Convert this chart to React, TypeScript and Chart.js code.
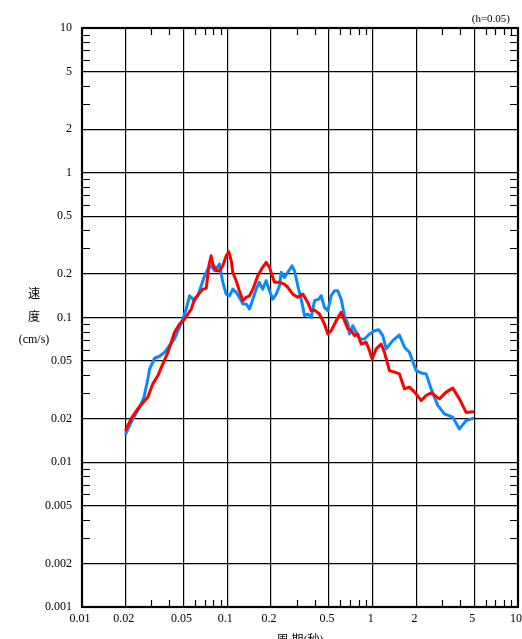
import React, { useEffect, useRef } from 'react';
import { Chart, registerables } from 'chart.js';

Chart.register(...registerables);

const xTickValues = [0.01, 0.02, 0.05, 0.1, 0.2, 0.5, 1, 2, 5, 10];
const xTickLabels = ['0.01', '0.02', '0.05', '0.1', '0.2', '0.5', '1', '2', '5', '10'];
const yTickValues = [0.001, 0.002, 0.005, 0.01, 0.02, 0.05, 0.1, 0.2, 0.5, 1, 2, 5, 10];
const yTickLabels = ['0.001', '0.002', '0.005', '0.01', '0.02', '0.05', '0.1', '0.2', '0.5', '1', '2', '5', '10'];
const minorMultipliers = [3, 4, 6, 7, 8, 9];

const xTitle = '周 期(秒)';
const yTitleLines = ['速', '度', '(cm/s)'];
const note = '(h=0.05)';

const bluePeriods = [
  0.02, 0.0224, 0.0249, 0.0267, 0.0284, 0.0292, 0.0316, 0.0342, 0.037, 0.04,
  0.0433, 0.0469, 0.0494, 0.0521, 0.055, 0.0594, 0.0627, 0.0661, 0.0697, 0.0735,
  0.0774, 0.0817, 0.0883, 0.0931, 0.0982, 0.1035, 0.109, 0.115, 0.121, 0.128,
  0.135, 0.142, 0.15, 0.158, 0.166, 0.175, 0.185, 0.195, 0.2056, 0.217,
  0.2286, 0.235, 0.247, 0.2606, 0.279, 0.2897, 0.3055, 0.322, 0.34, 0.358,
  0.3776, 0.398, 0.4256, 0.4426, 0.466, 0.491, 0.5186, 0.546, 0.575, 0.607,
  0.64, 0.675, 0.692, 0.73, 0.77, 0.811, 0.879, 0.951, 1.028, 1.1,
  1.174, 1.239, 1.374, 1.528, 1.655, 1.79, 1.99, 2.157, 2.333, 2.525,
  2.804, 3.117, 3.556, 3.953, 4.397, 4.88,
];
const blueVelocity = [
  0.0157, 0.02, 0.024, 0.0282, 0.0377, 0.0441, 0.0523, 0.054, 0.0575, 0.0639,
  0.0711, 0.0856, 0.0977, 0.1145, 0.1413, 0.1306, 0.1413, 0.1656, 0.194, 0.216,
  0.2277, 0.2103, 0.234, 0.175, 0.145, 0.141, 0.157, 0.149, 0.138, 0.124,
  0.124, 0.1145, 0.134, 0.157, 0.175, 0.157, 0.1795, 0.153, 0.134, 0.145,
  0.1656, 0.205, 0.189, 0.205, 0.2277, 0.2103, 0.1656, 0.134, 0.1028, 0.1057,
  0.1, 0.1306, 0.134, 0.1413, 0.1175, 0.1114, 0.1413, 0.153, 0.153, 0.134,
  0.1028, 0.0902, 0.0769, 0.0878, 0.079, 0.0711, 0.0711, 0.0769, 0.0811, 0.0824,
  0.0749, 0.0607, 0.0692, 0.0757, 0.0623, 0.0575, 0.043, 0.0414, 0.0408, 0.0321,
  0.0247, 0.0216, 0.0205, 0.017, 0.0194, 0.0201,
];

const redPeriods = [
  0.02, 0.0218, 0.0242, 0.0284, 0.0307, 0.0333, 0.036, 0.039, 0.0433, 0.0469,
  0.0508, 0.0565, 0.0594, 0.0678, 0.0716, 0.0746, 0.0774, 0.0794, 0.0839, 0.0883,
  0.0931, 0.0982, 0.1024, 0.1064, 0.109, 0.115, 0.121, 0.128, 0.135, 0.142,
  0.15, 0.162, 0.175, 0.185, 0.195, 0.211, 0.2286, 0.247, 0.2606, 0.282,
  0.3055, 0.3306, 0.358, 0.3776, 0.398, 0.4305, 0.466, 0.491, 0.5186, 0.561,
  0.607, 0.64, 0.675, 0.711, 0.75, 0.79, 0.834, 0.902, 0.951, 0.992,
  1.057, 1.144, 1.205, 1.305, 1.413, 1.528, 1.655, 1.79, 1.94, 2.157,
  2.333, 2.525, 2.88, 3.2, 3.556, 3.953, 4.397, 4.88,
];
const redVelocity = [
  0.01675, 0.02, 0.0234, 0.0282, 0.0348, 0.0397, 0.0478, 0.0575, 0.079, 0.0902,
  0.0977, 0.1145, 0.134, 0.157, 0.159, 0.2277, 0.2668, 0.234, 0.2103, 0.2103,
  0.2277, 0.2668, 0.2844, 0.2466, 0.205, 0.1795, 0.153, 0.1306, 0.138, 0.1413,
  0.157, 0.194, 0.222, 0.2403, 0.222, 0.175, 0.175, 0.17, 0.1615, 0.145,
  0.138, 0.145, 0.127, 0.1114, 0.1125, 0.1057, 0.0902, 0.0769, 0.0811, 0.095,
  0.1086, 0.095, 0.0833, 0.0811, 0.0749, 0.0769, 0.0656, 0.0675, 0.059, 0.0517,
  0.0607, 0.0656, 0.0575, 0.043, 0.0419, 0.0408, 0.0321, 0.033, 0.0305, 0.0267,
  0.0289, 0.0302, 0.0274, 0.0305, 0.0325, 0.0274, 0.0221, 0.0223,
];

const SERIF = '"Liberation Serif", "Noto Sans CJK JP", serif';

const decorPlugin = {
  id: 'decor',
  afterDraw(chart: any) {
    const { ctx, chartArea: a, scales } = chart;
    const xs = scales.x;
    const ys = scales.y;
    ctx.save();
    ctx.strokeStyle = '#000';
    ctx.lineWidth = 1.2;
    ctx.beginPath();
    for (let d = -2; d < 1; d++) {
      for (const m of minorMultipliers) {
        const px = Math.round(xs.getPixelForValue(m * Math.pow(10, d))) + 0.5;
        ctx.moveTo(px, a.top);
        ctx.lineTo(px, a.top + 7);
        ctx.moveTo(px, a.bottom);
        ctx.lineTo(px, a.bottom - 7);
      }
    }
    for (let d = -3; d < 1; d++) {
      for (const m of minorMultipliers) {
        const py = Math.round(ys.getPixelForValue(m * Math.pow(10, d))) + 0.5;
        ctx.moveTo(a.left, py);
        ctx.lineTo(a.left + 8, py);
        ctx.moveTo(a.right, py);
        ctx.lineTo(a.right - 8, py);
      }
    }
    ctx.stroke();
    ctx.lineWidth = 2.2;
    ctx.strokeRect(a.left, a.top, a.right - a.left, a.bottom - a.top);

    ctx.fillStyle = '#000';
    ctx.font = '11px ' + SERIF;
    ctx.textAlign = 'right';
    ctx.textBaseline = 'middle';
    ctx.fillText(note, a.right - 8, a.top - 9);

    ctx.textAlign = 'center';
    ctx.font = '12px ' + SERIF;
    const cx = a.left - 48;
    const ys0 = [295, 318, 340];
    yTitleLines.forEach((t, i) => ctx.fillText(t, cx, ys0[i]));
    ctx.restore();
  },
};

export default function App() {
  const ref = useRef<HTMLCanvasElement | null>(null);
  useEffect(() => {
    if (!ref.current) return;
    const chart = new Chart(ref.current, {
      type: 'line',
      data: {
        datasets: [
          {
            label: 'red',
            data: redPeriods.map((p, i) => ({ x: p, y: redVelocity[i] })),
            borderColor: '#ff0000',
            borderWidth: 3,
            pointRadius: 0,
            fill: false,
            order: 0,
          },
          {
            label: 'blue',
            data: bluePeriods.map((p, i) => ({ x: p, y: blueVelocity[i] })),
            borderColor: '#0a88ff',
            borderWidth: 3,
            pointRadius: 0,
            fill: false,
            order: 1,
          },
        ],
      },
      options: {
        animation: false,
        responsive: false,
        parsing: false as any,
        layout: { padding: { left: 0, right: 4, top: 28, bottom: 0 }, autoPadding: false } as any,
        plugins: { legend: { display: false }, tooltip: { enabled: false }, title: { display: false } },
        elements: { line: { tension: 0, borderJoinStyle: 'round', borderCapStyle: 'round' } },
        scales: {
          x: {
            type: 'logarithmic',
            min: 0.01,
            max: 10,
            afterBuildTicks: (s: any) => {
              s.ticks = xTickValues.map((v) => ({ value: v }));
            },
            afterFit: (s: any) => {
              s.height = 53;
              s.paddingLeft = 0;
              s.paddingRight = 0;
              s.paddingTop = 0;
              s.paddingBottom = 0;
            },
            ticks: {
              autoSkip: false,
              maxRotation: 0,
              minRotation: 0,
              padding: 5,
              labelOffset: -2,
              color: '#000',
              font: { family: SERIF, size: 12 },
              callback: (_v: any, i: number) => xTickLabels[i],
            },
            grid: { color: '#000', lineWidth: 1.2, drawTicks: false },
            border: { display: false },
            title: {
              display: true,
              text: xTitle,
              color: '#000',
              font: { family: SERIF, size: 12 },
              padding: { top: 0, bottom: 12 },
            },
          },
          y: {
            type: 'logarithmic',
            min: 0.001,
            max: 10,
            afterBuildTicks: (s: any) => {
              s.ticks = yTickValues.map((v) => ({ value: v }));
            },
            afterFit: (s: any) => {
              s.width = 82;
              s.paddingLeft = 0;
              s.paddingRight = 0;
              s.paddingTop = 0;
              s.paddingBottom = 0;
            },
            ticks: {
              autoSkip: false,
              padding: 10,
              color: '#000',
              font: { family: SERIF, size: 12 },
              callback: (_v: any, i: number) => yTickLabels[i],
            },
            grid: { color: '#000', lineWidth: 1.2, drawTicks: false },
            border: { display: false },
            title: { display: false },
          },
        },
      } as any,
      plugins: [decorPlugin],
    });
    return () => chart.destroy();
  }, []);

  return (
    <div style={{ position: 'fixed', left: 0, top: 0, width: 522, height: 639, overflow: 'hidden', background: '#fff' }}>
      <canvas ref={ref} width={522} height={660} style={{ display: 'block' }} />
    </div>
  );
}
